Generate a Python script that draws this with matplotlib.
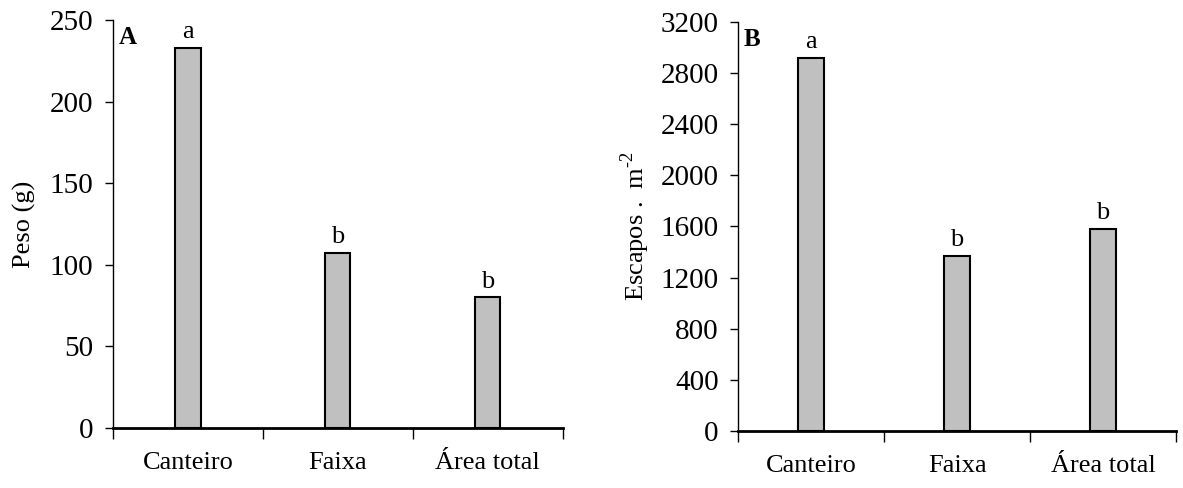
import matplotlib.pyplot as plt
import numpy as np

plt.rcParams['font.family'] = ['Liberation Serif', 'DejaVu Serif']
plt.rcParams['mathtext.fontset'] = 'custom'
plt.rcParams['mathtext.rm'] = 'Liberation Serif'

# dados
categorias = ['Canteiro', 'Faixa', 'Área total']
peso = [233, 107, 80]
escapos = [2920, 1367, 1578]
letras_a = ['a', 'b', 'b']
letras_b = ['a', 'b', 'b']

fig = plt.figure(figsize=(11.83, 4.88), dpi=100)
axA = fig.add_axes([0.0955, 0.123, 0.380, 0.836])
axB = fig.add_axes([0.624, 0.117, 0.370, 0.838])


def painel(ax, valores, letras, ymax, passo, ylabel, rotulo, largura, lpad):
    x = np.arange(len(categorias))
    ax.bar(x, valores, width=largura, color='#c0c0c0', edgecolor='black',
           linewidth=1.5, zorder=3)
    for xi, v, l in zip(x, valores, letras):
        ax.text(xi, v + ymax * 0.012, l, ha='center', va='bottom', fontsize=19)
    ax.set_xlim(-0.5, 2.5)
    ax.set_ylim(0, ymax)
    ax.set_yticks(np.arange(0, ymax + 1, passo))
    ax.set_xticks(x)
    ax.set_xticklabels(categorias, fontsize=19)
    ax.set_xticks(np.arange(-0.5, 3, 1), minor=True)
    ax.tick_params(axis='x', which='major', length=0, pad=17)
    ax.tick_params(axis='x', which='minor', length=8, width=1, direction='out')
    ax.tick_params(axis='y', labelsize=21, length=6, width=1, direction='out',
                   pad=8)
    ax.spines['top'].set_visible(False)
    ax.spines['right'].set_visible(False)
    ax.spines['left'].set_linewidth(1)
    ax.spines['bottom'].set_linewidth(2)
    ax.set_ylabel(ylabel, fontsize=19, labelpad=lpad)
    ax.text(0.012, 0.985, rotulo, transform=ax.transAxes, ha='left', va='top',
            fontsize=18, fontweight='bold')


painel(axA, peso, letras_a, 250, 50, 'Peso (g)', 'A', 0.17, 10)
painel(axB, escapos, letras_b, 3200, 400, 'Escapos .  m$^{\\text{-}2}$', 'B',
       0.18, 6)

fig.savefig('out.png', dpi=100)
